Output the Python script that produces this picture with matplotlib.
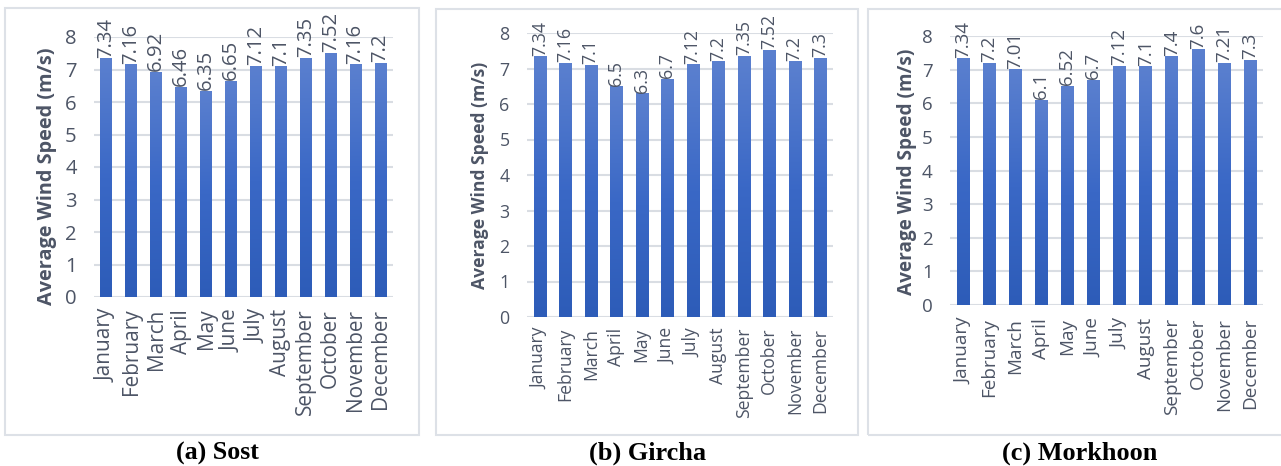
import matplotlib
matplotlib.use("Agg")
import matplotlib.pyplot as plt
import numpy as np
from matplotlib.colors import LinearSegmentedColormap
from matplotlib.patches import Rectangle

months = ["January", "February", "March", "April", "May", "June", "July",
          "August", "September", "October", "November", "December"]
sost = [7.34, 7.16, 6.92, 6.46, 6.35, 6.65, 7.12, 7.1, 7.35, 7.52, 7.16, 7.2]
gircha = [7.34, 7.16, 7.1, 6.5, 6.3, 6.7, 7.12, 7.2, 7.35, 7.52, 7.2, 7.3]
morkhoon = [7.34, 7.2, 7.01, 6.1, 6.52, 6.7, 7.12, 7.1, 7.4, 7.6, 7.21, 7.3]
captions = ["(a) Sost", "(b) Gircha", "(c) Morkhoon"]
yticks = [0, 1, 2, 3, 4, 5, 6, 7, 8]
ylabel = "Average Wind Speed (m/s)"

W, H = 1281, 466
fig = plt.figure(figsize=(W / 100, H / 100), dpi=100)
renderer = fig.canvas.get_renderer()

TXT = "#4d5566"
GRID = "#d9dde3"
FONT = "Open Sans"
cmap = LinearSegmentedColormap.from_list("g", ["#2d5cb8", "#3a68c6", "#5b80cf"])


def width_px(s, size, family, weight="normal"):
    t = fig.text(0, 0, s, fontsize=size, family=family, fontweight=weight)
    w = t.get_window_extent(renderer).width
    t.remove()
    return w


def fit(s, target, family, weight="normal"):
    return 10.0 * target / width_px(s, 10.0, family, weight)


# per-panel layout (pixels)
boxes = [(94, 393, 297, 37), (527, 833, 317, 33), (950, 1263, 305, 36)]
borders = [(5, 419, 8, 435), (436, 858, 9, 435), (868, 1290, 9, 435)]
ylab_x = [47, 480, 907]
ylab_cy = [176, 175, 172]
ylab_len = [258, 227, 247]
month_len = [180, 152, 164]      # January + September lengths
month_gap = [16, 15, 17]
dlab_len = [40, 35, 37]          # "7.34"
cap_x = [217, 648, 1080]
cap_len = [83, 117, 155]

for (x0, x1, y0, y1) in borders:
    fig.patches.append(Rectangle((x0 / W, 1 - y1 / H), (x1 - x0) / W, (y1 - y0) / H,
                                 transform=fig.transFigure, fill=False,
                                 edgecolor="#dde1e7", linewidth=1.5))

grad = np.linspace(0, 1, 256).reshape(-1, 1)

for i, vals in enumerate([sost, gircha, morkhoon]):
    l, r, yb, yt = boxes[i]
    ax = fig.add_axes([l / W, 1 - yb / H, (r - l) / W, (yb - yt) / H])
    x = np.arange(len(months))

    ds = fit("7.34", dlab_len[i], FONT)
    ms = 10.0 * month_len[i] / (width_px("January", 10, FONT) + width_px("September", 10, FONT))
    ys = fit(ylabel, ylab_len[i], FONT, "bold")
    cs = fit(captions[i], cap_len[i], "Liberation Serif", "bold")

    bars = ax.bar(x, vals, width=0.48, color="none", edgecolor="none", zorder=2)
    for b, v in zip(bars, vals):
        bx, bw = b.get_x(), b.get_width()
        im = ax.imshow(grad, extent=[bx, bx + bw, 0, v], origin="lower",
                       aspect="auto", cmap=cmap, zorder=2)
        im.set_clip_path(b)
        ax.text(bx + bw / 2, v + 0.02, f"{v:g}", rotation=90, ha="center",
                va="bottom", fontsize=ds, color=TXT, family=FONT)
    ax.set_xlim(-0.5, len(months) - 0.5)
    ax.set_ylim(0, 8)
    ax.set_yticks(yticks)
    ax.set_yticklabels([str(t) for t in yticks], fontsize=ds, color=TXT, family=FONT)
    ax.set_xticks(x)
    ax.set_xticklabels(months, rotation=90, fontsize=ms, color=TXT, family=FONT)
    ax.tick_params(axis="both", length=0)
    ax.tick_params(axis="y", pad=12.5)
    ax.tick_params(axis="x", pad=month_gap[i] * 0.72 - 3)
    for s in ax.spines.values():
        s.set_visible(False)
    ax.grid(axis="y", color=GRID, linewidth=1.5, zorder=0)
    ax.set_axisbelow(True)
    ax.set_facecolor("none")
    fig.text(ylab_x[i] / W, 1 - ylab_cy[i] / H, ylabel,
             rotation=90, ha="center", va="center", fontsize=ys, fontweight="bold",
             color=TXT, family=FONT)
    fig.text(cap_x[i] / W, 1 - 453 / H, captions[i], ha="center", va="center",
             fontsize=cs, fontweight="bold", color="black", family="Liberation Serif")

fig.savefig("out.png", dpi=100)
